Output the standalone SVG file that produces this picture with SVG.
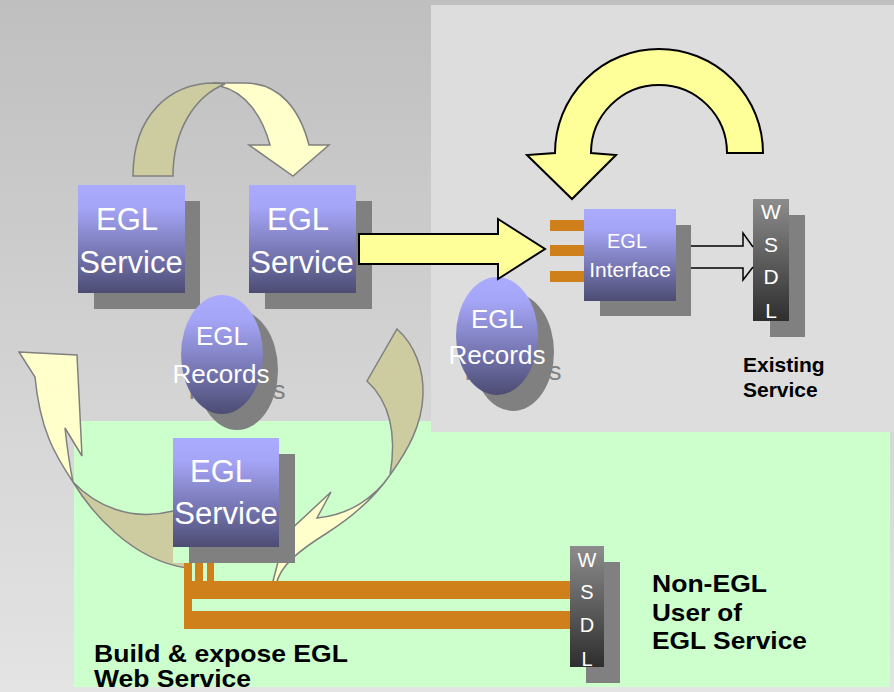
<svg xmlns="http://www.w3.org/2000/svg" width="894" height="692" viewBox="0 0 894 692">
<defs>
<linearGradient id="bg" x1="0" y1="0" x2="0" y2="1"><stop offset="0" stop-color="#bfbfbf"/><stop offset="1" stop-color="#e4e4e4"/></linearGradient>
<linearGradient id="node" x1="0" y1="0" x2="0" y2="1"><stop offset="0" stop-color="#aaaaff"/><stop offset="0.2" stop-color="#a6a6f8"/><stop offset="0.6" stop-color="#7a7ab8"/><stop offset="1" stop-color="#4c4c73"/></linearGradient>
<linearGradient id="wsdl" x1="0" y1="0" x2="0" y2="1"><stop offset="0" stop-color="#8c8c8c"/><stop offset="1" stop-color="#2e2e2e"/></linearGradient>
<clipPath id="behindSvc3"><path clip-rule="evenodd" d="M0,0 H894 V692 H0 Z M173,438 H279 V454 H295 V563 H173 Z"/></clipPath>
</defs>
<style>
.shadow{fill:#808080}
.node{fill:url(#node)}
.wsdl{fill:url(#wsdl)}
.wt{fill:#ffffff;font-family:"Liberation Sans",Arial,sans-serif;text-anchor:middle}
.st{fill:#808080;font-family:"Liberation Sans",Arial,sans-serif;text-anchor:middle}
.lbl{fill:#000000;font-family:"Liberation Sans",Arial,sans-serif;font-weight:bold}
.dark{fill:#cccca0;stroke:#808080;stroke-width:1.5}
.light{fill:#ffffcc;stroke:#808080;stroke-width:1.5}
.big{fill:#ffff99;stroke:#000000;stroke-width:2}
.bus{fill:#d0801a}
</style>
<!-- backgrounds -->
<rect x="0" y="0" width="894" height="692" fill="url(#bg)"/>
<rect x="74" y="421" width="816" height="266" fill="#ccffcc"/>
<rect x="431" y="5" width="463" height="427" fill="#dddddd"/>

<g id="svc1">
  <rect class="shadow" x="94" y="201" width="106" height="108"/>
  <rect class="node" x="78" y="185" width="107" height="108"/>
  <text class="wt" x="127" y="230" font-size="31">EGL</text>
  <text class="wt" x="131" y="273" font-size="31">Service</text>
</g>
<g id="svc2">
  <rect class="shadow" x="265" y="201" width="107" height="108"/>
  <rect class="node" x="249" y="185" width="107" height="108"/>
  <text class="wt" x="298" y="230" font-size="31">EGL</text>
  <text class="wt" x="302" y="273" font-size="31">Service</text>
</g>
<g id="rec1">
  <ellipse class="shadow" cx="237" cy="370" rx="41" ry="60"/>
  <text class="st" x="237" y="399" font-size="26">Records</text>
  <ellipse class="node" cx="222" cy="354.5" rx="41" ry="59.5"/>
  <text class="wt" x="222" y="345" font-size="26">EGL</text>
  <text class="wt" x="221" y="383" font-size="26">Records</text>
</g>
<g id="svc3">
  <rect class="shadow" x="189" y="454" width="106" height="109"/>
  <rect class="node" x="173" y="438" width="106" height="109"/>
  <text class="wt" x="221" y="482" font-size="31">EGL</text>
  <text class="wt" x="226" y="524" font-size="31">Service</text>
</g>
<g id="rec2">
  <ellipse class="shadow" cx="513" cy="352" rx="41" ry="59"/>
  <text class="st" x="513" y="380" font-size="26">Records</text>
  <ellipse class="node" cx="497" cy="336" rx="41" ry="59"/>
  <text class="wt" x="497" y="328" font-size="26">EGL</text>
  <text class="wt" x="497" y="364" font-size="26">Records</text>
</g>
<g id="iface">
  <rect class="shadow" x="600" y="225" width="91" height="91"/>
  <rect class="node" x="584" y="209" width="92" height="92"/>
  <text class="wt" x="627" y="248" font-size="20">EGL</text>
  <text class="wt" x="630" y="277" font-size="21">Interface</text>
</g>
<g id="wsdl1">
  <rect class="shadow" x="770" y="215" width="35" height="122"/>
  <rect class="wsdl" x="753" y="199" width="36" height="122"/>
  <text class="wt" x="771" y="219" font-size="21">W</text>
  <text class="wt" x="771" y="252" font-size="21">S</text>
  <text class="wt" x="771" y="284" font-size="21">D</text>
  <text class="wt" x="771" y="318" font-size="21">L</text>
</g>
<g id="wsdl2">
  <rect class="shadow" x="586" y="562" width="34" height="121"/>
  <rect class="wsdl" x="570" y="546" width="34" height="121"/>
  <text class="wt" x="587" y="567" font-size="20">W</text>
  <text class="wt" x="587" y="599" font-size="20">S</text>
  <text class="wt" x="587" y="632" font-size="20">D</text>
  <text class="wt" x="587" y="666" font-size="20">L</text>
</g>
<g id="labels">
  <text class="lbl" x="743" y="372" font-size="21">Existing</text>
  <text class="lbl" x="743" y="397" font-size="21">Service</text>
  <text class="lbl" x="652" y="592" font-size="24" textLength="115" lengthAdjust="spacingAndGlyphs">Non-EGL</text>
  <text class="lbl" x="652" y="621" font-size="24" textLength="90" lengthAdjust="spacingAndGlyphs">User of</text>
  <text class="lbl" x="652" y="649" font-size="24" textLength="155" lengthAdjust="spacingAndGlyphs">EGL Service</text>
  <text class="lbl" x="94" y="662" font-size="24" textLength="254" lengthAdjust="spacingAndGlyphs">Build &amp; expose EGL</text>
  <text class="lbl" x="94" y="687" font-size="24" textLength="157" lengthAdjust="spacingAndGlyphs">Web Service</text>
</g>

<g id="connectors">
  <!-- top-left loop arrow -->
  <path class="light" d="M215,83 L245,83 C280,83 300,110 309,145 L329,145 L293,176 L249,145 L270,145 C262,115 245,92 220,86 Z"/>
  <path class="dark" d="M133,176 C133,115 170,83 215,83 L225,84 C195,96 173,130 173,176 Z"/>
  <g clip-path="url(#behindSvc3)">
    <!-- lower-left loop arrow -->
    <path class="light" d="M19,352 L77,355 L82,456 L65,428 C67,447 70,467 73,482 C55,455 40,430 35,377 Z"/>
    <path class="dark" d="M73,482 C90,510 130,560 187,568 L190,510 L173,511 C130,522 95,505 73,482 Z"/>
    <!-- lower-right loop arrow -->
    <path class="dark" d="M397,329 C415,345 424,370 423,395 C422,425 408,450 390,475 C396,440 393,405 367,381 Z"/>
    <path class="light" d="M390,475 C375,497 350,515 317,518 L331,492 L285,535 L272,585 L276,585 C280,565 300,550 327,533 C355,515 375,497 390,475 Z"/>
    <!-- orange bus -->
    <rect class="bus" x="184" y="547" width="8" height="82"/>
    <rect class="bus" x="195" y="547" width="8" height="36"/>
    <rect class="bus" x="207" y="547" width="7" height="36"/>
    <rect class="bus" x="184" y="581" width="386" height="18"/>
    <rect class="bus" x="184" y="611" width="386" height="18"/>
  </g>
  <!-- big horizontal arrow -->
  <path class="big" d="M359,234 L498,234 L498,219 L545,249 L498,279 L498,264 L359,264 Z"/>
  <!-- big right loop arrow -->
  <path class="big" d="M763,153 A104,104 0 0 0 555,153 L527,155 L572,199 L616,155 L591,153 A68,68 0 0 1 727,153 Z"/>
  <!-- interface to WSDL arrow -->
  <path d="M691,246 L743,246 L743,233 L753,247 M753,267 L743,280 L743,268 L691,268" fill="none" stroke="#000000" stroke-width="1.5"/>
  <!-- orange stubs -->
  <rect class="bus" x="550" y="220" width="34" height="11"/>
  <rect class="bus" x="550" y="245" width="34" height="11"/>
  <rect class="bus" x="550" y="271" width="34" height="11"/>
</g>
</svg>
